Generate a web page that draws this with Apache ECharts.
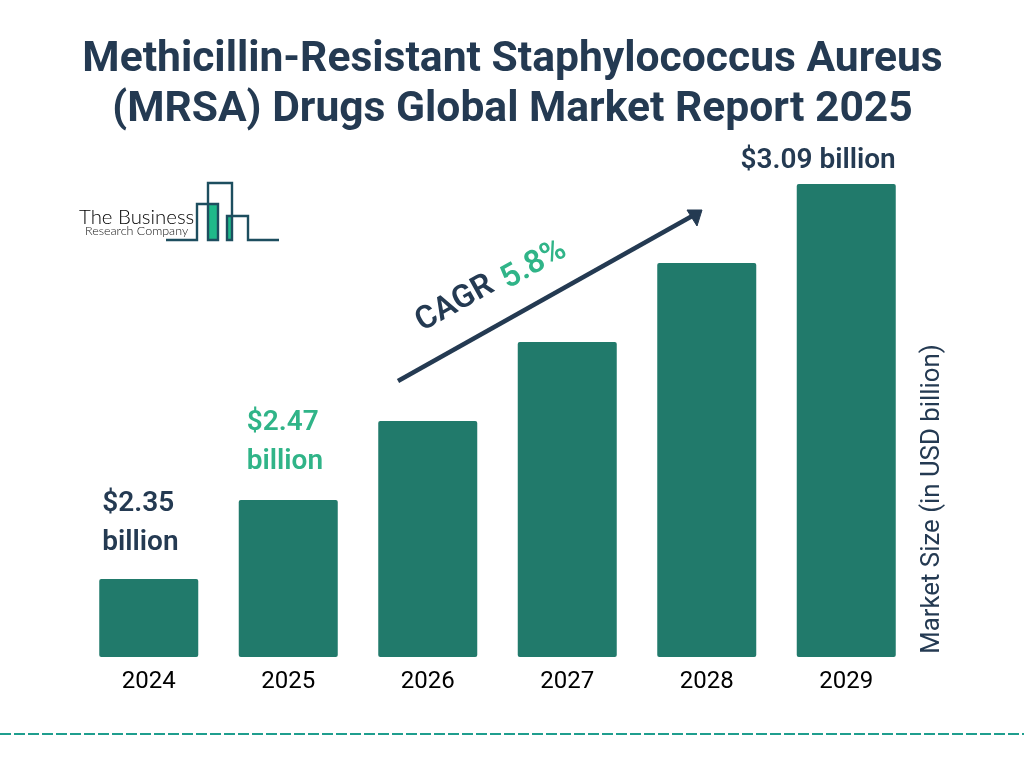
<!DOCTYPE html>
<html>
<head>
<meta charset="utf-8">
<style>html,body{margin:0;padding:0;background:#fff}#chart{width:1024px;height:768px}</style>
<script src="https://cdn.jsdelivr.net/npm/echarts@6/dist/echarts.min.js"></script>
</head>
<body>
<div id="chart"></div>
<script>
var years = ['2024', '2025', '2026', '2027', '2028', '2029']
// bar lengths as drawn in the picture (evenly stepped, only three are labelled)
var marketSize = [2.35, 2.498, 2.646, 2.794, 2.942, 3.09]
var valueLabels = ['$2.35\nbillion', '$2.47\nbillion', '', '', '', '$3.09 billion']
var titleText = 'Methicillin-Resistant Staphylococcus Aureus\n(MRSA) Drugs Global Market Report 2025'

var dark = '#243a52'
var green = '#30b488'
var barColor = '#217a6b'
var logoLine = '#1d4e5f'

function barItem(v, i) {
	var item = { value: v }
	if (i == 0 || i == 1) {
		item.label = {
			show: true, formatter: valueLabels[i], position: [i == 0 ? 3 : 8, i == 0 ? -17 : -19],
			align: 'left', verticalAlign: 'bottom', lineHeight: 39,
			color: i == 1 ? green : dark
		}
	} else if (i == 5) {
		item.label = {
			show: true, formatter: valueLabels[i], position: [99, -9],
			align: 'right', verticalAlign: 'bottom', color: dark
		}
	}
	return item
}

var chart = echarts.init(document.getElementById('chart'))
chart.setOption({
	backgroundColor: '#fff',
	animation: false,
	title: {
		text: titleText, left: 507.5, top: 30, textAlign: 'center',
		textStyle: { fontFamily: 'Roboto', fontSize: 42.6, fontWeight: 700, color: dark, lineHeight: 50 }
	},
	grid: { left: 79, width: 837, top: 184, height: 473 },
	xAxis: {
		type: 'category', data: years,
		axisLine: { show: false }, axisTick: { show: false },
		axisLabel: { fontFamily: 'Roboto', fontSize: 24, color: '#000', margin: 13 }
	},
	yAxis: { type: 'value', min: 2.204, max: 3.09, show: false, splitLine: { show: false } },
	series: [{
		type: 'bar', barWidth: 99,
		data: marketSize.map(barItem),
		itemStyle: { color: barColor, borderRadius: 2 },
		label: { fontFamily: 'Roboto', fontSize: 28, fontWeight: 600 }
	}],
	graphic: [
		// CAGR arrow
		{ type: 'line', shape: { x1: 398, y1: 381, x2: 694, y2: 215 }, style: { stroke: dark, lineWidth: 4.5 } },
		{ type: 'polygon', shape: { points: [[702, 210], [687, 210], [697, 226]] }, style: { fill: dark, stroke: dark, lineWidth: 1, lineJoin: 'round' } },
		{ type: 'text', x: 455, y: 304, rotation: 0.51, style: { text: 'CAGR', x: 0, y: 0, align: 'center', verticalAlign: 'middle', fontFamily: 'Roboto', fontSize: 32, fontWeight: 600, fill: dark } },
		{ type: 'text', x: 534, y: 265, rotation: 0.51, style: { text: '5.8%', x: 0, y: 0, align: 'center', verticalAlign: 'middle', fontFamily: 'Roboto', fontSize: 32, fontWeight: 600, fill: green } },
		// axis title
		{ type: 'text', x: 933, y: 499, rotation: Math.PI / 2, style: { text: 'Market Size (in USD billion)', x: 0, y: 0, align: 'center', verticalAlign: 'middle', fontFamily: 'Roboto', fontSize: 25.8, fill: dark } },
		// footer line
		{ type: 'line', shape: { x1: 0, y1: 734, x2: 1024, y2: 734 }, style: { stroke: '#1f9e8e', lineWidth: 2, lineDash: [11, 3] } },
		// logo
		{ type: 'rect', shape: { x: 208, y: 204, width: 10, height: 36 }, style: { fill: '#1fb98a' } },
		{ type: 'rect', shape: { x: 227, y: 216, width: 5, height: 24 }, style: { fill: '#1fb98a' } },
		{ type: 'polyline', shape: { points: [[166, 240], [197, 240], [197, 204], [218, 204], [218, 240], [208, 240], [208, 183], [232, 183], [232, 240], [227, 240], [227, 216], [248, 216], [248, 240], [279, 240]] }, style: { stroke: logoLine, lineWidth: 2.4, fill: 'none' } },
		{ type: 'text', style: { text: 'The Business', x: 79, y: 217, verticalAlign: 'middle', fontFamily: 'Lato', fontWeight: 300, fontSize: 20.4, fill: '#000' } },
		{ type: 'text', style: { text: 'Research Company', x: 85, y: 231, verticalAlign: 'middle', fontFamily: 'Lato', fontWeight: 300, fontSize: 12.5, fill: '#111' } }
	]
})
</script>
</body>
</html>
